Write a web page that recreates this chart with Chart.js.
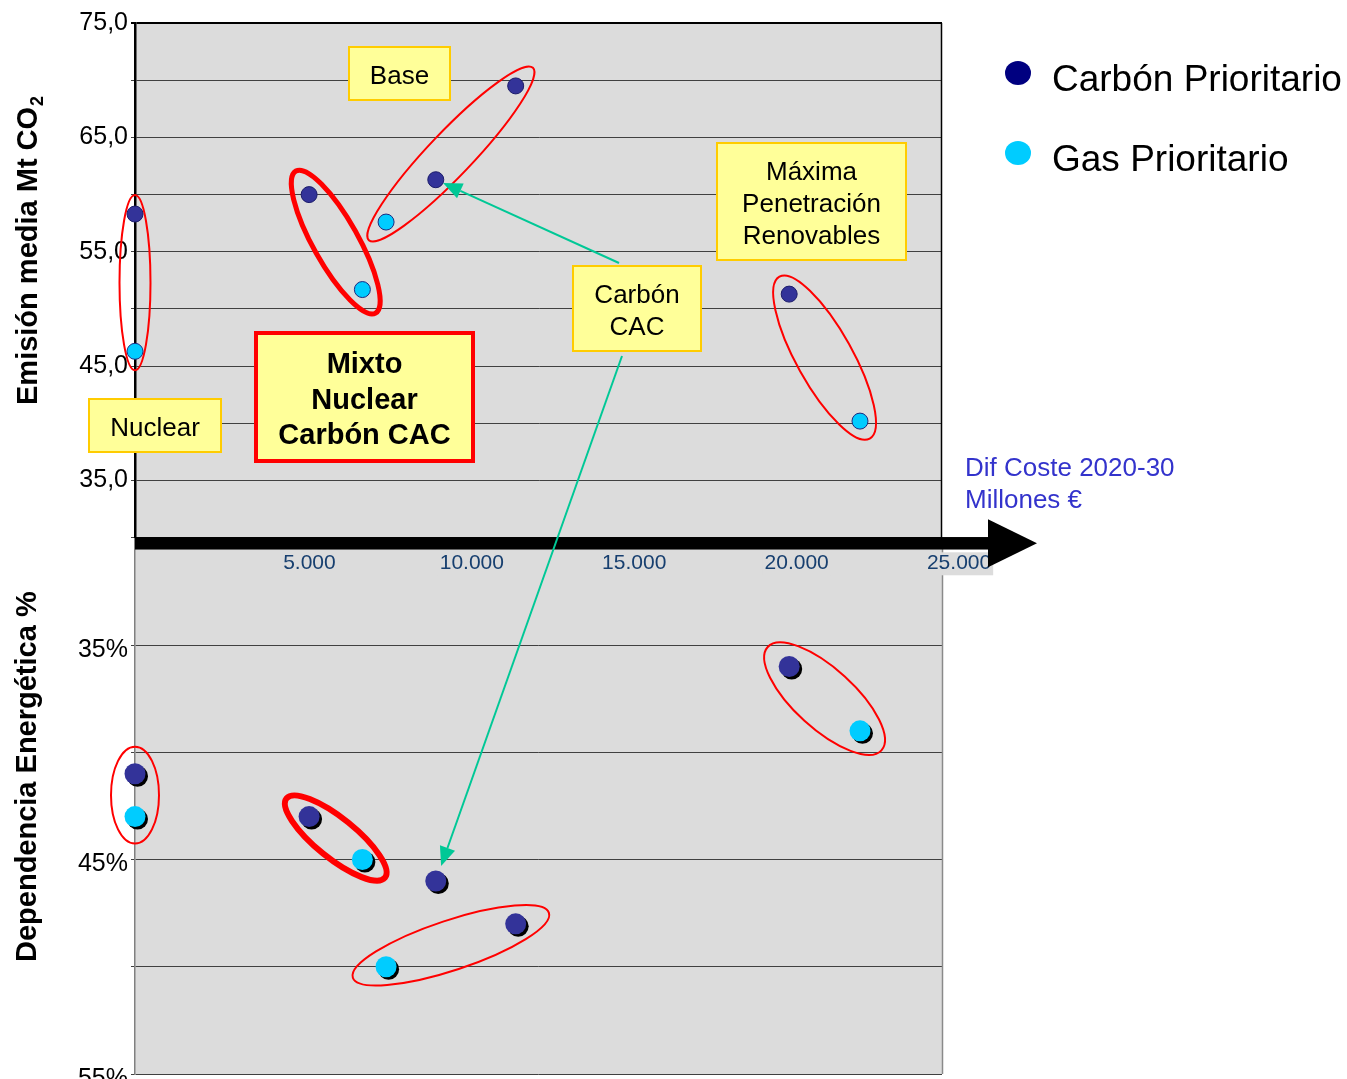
<!DOCTYPE html>
<html lang="es">
<head>
<meta charset="utf-8">
<title>Emisión y dependencia energética frente a coste 2020-30</title>
<script src="https://cdn.jsdelivr.net/npm/chart.js@4.4.1/dist/chart.umd.min.js"></script>
<style>
  html, body { margin: 0; padding: 0; background: #fff; overflow: hidden; }
  #wrap { position: relative; width: 1347px; height: 1079px; overflow: hidden; }
  canvas { display: block; }
</style>
</head>
<body>
<div id="wrap"><canvas id="grafico" width="1347" height="1100"></canvas></div>
<script>
// ---------- Datos ----------
const escenariosCarbon = ['Nuclear', 'Mixto Nuclear Carbón CAC', 'Carbón CAC', 'Base', 'Máxima Penetración Renovables'];
const costeCarbon = [-370, 4990, 8890, 11350, 19770];        // Dif. coste 2020-30, millones €
const emisionCarbon = [58.3, 60.0, 61.3, 69.5, 51.3];         // Mt CO2
const dependenciaCarbon = [41, 43, 46, 48, 36];               // %

const escenariosGas = ['Nuclear', 'Mixto Nuclear Carbón CAC', 'Base', 'Máxima Penetración Renovables'];
const costeGas = [-370, 6630, 7360, 21950];
const emisionGas = [46.3, 51.7, 57.6, 40.2];
const dependenciaGas = [43, 45, 50, 39];

const costeTicks = [5000, 10000, 15000, 20000, 25000];
const costeTickLabels = ['5.000', '10.000', '15.000', '20.000', '25.000'];
const emisionTicks = [35, 45, 55, 65, 75];
const emisionTickLabels = ['35,0', '45,0', '55,0', '65,0', '75,0'];
const dependenciaTicks = [35, 45, 55];
const dependenciaTickLabels = ['35%', '45%', '55%'];

// ---------- Estilo ----------
const FONT = '"Liberation Sans", Arial, Helvetica, sans-serif';
const AZUL = '#333399';
const CIAN = '#00ccff';

const puntos = (xs, ys) => xs.map((x, i) => ({ x, y: ys[i] }));
const etiqueta = (v, vals, txt) => { const i = vals.indexOf(v); return i >= 0 ? txt[i] : ''; };

// Elipses que agrupan los escenarios (ancladas a los puntos)
const grupos = [
  { panel: 'yE', p: ['c', 0], q: ['g', 0], extend: 19, minor: 15.5, lw: 2 },
  { panel: 'yE', p: ['c', 1], q: ['g', 1], extend: 27, minor: 22.5, lw: 5 },
  { panel: 'yE', p: ['g', 2], q: ['c', 3], extend: 25, minor: 22, lw: 2 },
  { panel: 'yE', p: ['c', 4], q: ['g', 3], extend: 20, minor: 28, lw: 2 },
  { panel: 'yD', p: ['c', 0], q: ['g', 0], extend: 27, minor: 24, lw: 2 },
  { panel: 'yD', p: ['c', 1], q: ['g', 1], extend: 29, minor: 20, lw: 6 },
  { panel: 'yD', p: ['g', 2], q: ['c', 3], extend: 35, minor: 25, lw: 2 },
  { panel: 'yD', p: ['c', 4], q: ['g', 3], extend: 29, minor: 30, lw: 2 }
];

// Cuadros de texto
const cajas = [
  { x: 349, y: 47, w: 101, h: 53, lines: ['Base'], font: '26px', lh: 32, border: '#ffcc00', bw: 2 },
  { x: 717, y: 143, w: 189, h: 117, lines: ['Máxima', 'Penetración', 'Renovables'], font: '26px', lh: 32, border: '#ffcc00', bw: 2 },
  { x: 573, y: 266, w: 128, h: 85, lines: ['Carbón', 'CAC'], font: '26px', lh: 32, border: '#ffcc00', bw: 2 },
  { x: 89, y: 399, w: 132, h: 53, lines: ['Nuclear'], font: '26px', lh: 32, border: '#ffcc00', bw: 2 },
  { x: 256, y: 333, w: 217, h: 128, lines: ['Mixto', 'Nuclear', 'Carbón CAC'], font: 'bold 29px', lh: 35.5, border: '#ff0000', bw: 4 }
];

// Flechas desde "Carbón CAC" hasta el escenario correspondiente
const flechas = [
  { from: { x: 619, y: 263 }, to: ['c', 2, 'yE'], gap: 8 },
  { from: { x: 622, y: 356 }, to: ['c', 2, 'yD'], gap: 16 }
];

function pixel(chart, serie, idx, panel) {
  const xs = chart.scales.x, ys = chart.scales[panel];
  const xv = (serie === 'c' ? costeCarbon : costeGas)[idx];
  const yv = panel === 'yE'
    ? (serie === 'c' ? emisionCarbon : emisionGas)[idx]
    : (serie === 'c' ? dependenciaCarbon : dependenciaGas)[idx];
  return { x: xs.getPixelForValue(xv), y: ys.getPixelForValue(yv) };
}

function flecha(ctx, x0, y0, x1, y1) {
  const ang = Math.atan2(y1 - y0, x1 - x0);
  const L = 19, W = 8;
  const bx = x1 - L * Math.cos(ang), by = y1 - L * Math.sin(ang);
  ctx.strokeStyle = '#00c896';
  ctx.fillStyle = '#00c896';
  ctx.lineWidth = 2;
  ctx.beginPath(); ctx.moveTo(x0, y0); ctx.lineTo(bx, by); ctx.stroke();
  ctx.beginPath();
  ctx.moveTo(x1, y1);
  ctx.lineTo(bx + W * Math.sin(ang), by - W * Math.cos(ang));
  ctx.lineTo(bx - W * Math.sin(ang), by + W * Math.cos(ang));
  ctx.closePath(); ctx.fill();
}

function caja(ctx, c) {
  ctx.fillStyle = '#ffff99';
  ctx.fillRect(c.x, c.y, c.w, c.h);
  ctx.lineWidth = c.bw;
  ctx.strokeStyle = c.border;
  ctx.strokeRect(c.x, c.y, c.w, c.h);
  ctx.fillStyle = '#000';
  ctx.font = c.font + ' ' + FONT;
  ctx.textAlign = 'center';
  ctx.textBaseline = 'middle';
  const cx = c.x + c.w / 2;
  const cy = c.y + c.h / 2 + 3.5;
  const y0 = cy - (c.lines.length - 1) * c.lh / 2;
  c.lines.forEach((t, i) => ctx.fillText(t, cx, y0 + i * c.lh));
}

const decoracion = {
  id: 'decoracion',
  beforeDraw(chart) {
    const { ctx, chartArea: a } = chart;
    ctx.save();
    ctx.fillStyle = '#dcdcdc';
    ctx.fillRect(a.left, a.top, a.right - a.left, a.bottom - a.top);
    ctx.restore();
  },
  beforeDatasetsDraw(chart) {
    const ctx = chart.ctx;
    ctx.save();
    ctx.strokeStyle = '#ff0000';
    grupos.forEach(g => {
      const p = pixel(chart, g.p[0], g.p[1], g.panel);
      const q = pixel(chart, g.q[0], g.q[1], g.panel);
      const cx = (p.x + q.x) / 2, cy = (p.y + q.y) / 2;
      const ang = Math.atan2(q.y - p.y, q.x - p.x);
      const a = Math.hypot(q.x - p.x, q.y - p.y) / 2 + g.extend;
      ctx.lineWidth = g.lw;
      ctx.beginPath();
      ctx.ellipse(cx, cy, a, g.minor, ang, 0, Math.PI * 2);
      ctx.stroke();
    });
    ctx.restore();
  },
  beforeDatasetDraw(chart, args) {
    if (chart.data.datasets[args.index].sombra) {
      const ctx = chart.ctx;
      ctx.save();
      ctx.shadowColor = '#000';
      ctx.shadowOffsetX = 2.5;
      ctx.shadowOffsetY = 2.5;
      ctx.shadowBlur = 0;
    }
  },
  afterDatasetDraw(chart, args) {
    if (chart.data.datasets[args.index].sombra) chart.ctx.restore();
  },
  afterDatasetsDraw(chart) {
    const { ctx, chartArea: a, scales } = chart;
    const yE = scales.yE, yD = scales.yD, x = scales.x;
    ctx.save();

    // bordes derechos de los paneles
    ctx.lineWidth = 1.5;
    ctx.strokeStyle = '#000';
    ctx.beginPath(); ctx.moveTo(a.right - 0.5, yE.top); ctx.lineTo(a.right - 0.5, yE.bottom); ctx.stroke();
    ctx.strokeStyle = '#8a8a8a';
    ctx.beginPath(); ctx.moveTo(a.right + 0.5, yD.top); ctx.lineTo(a.right + 0.5, yD.bottom); ctx.stroke();

    // eje de coste: etiquetas
    const yBar = yE.bottom + 5.5;
    ctx.font = '21px ' + FONT;
    ctx.textAlign = 'center';
    ctx.textBaseline = 'middle';
    costeTicks.forEach((v, i) => {
      const px = x.getPixelForValue(v);
      const w = ctx.measureText(costeTickLabels[i]).width;
      ctx.fillStyle = '#dcdcdc';
      ctx.fillRect(px - w / 2 - 2, yBar + 9, w + 4, 23);
      ctx.fillStyle = '#173f6f';
      ctx.fillText(costeTickLabels[i], px, yBar + 20);
    });

    // eje de coste: flecha negra
    ctx.fillStyle = '#000';
    ctx.fillRect(a.left, yBar - 6.25, 860, 12.5);
    ctx.beginPath();
    ctx.moveTo(988, yBar - 24);
    ctx.lineTo(1037, yBar);
    ctx.lineTo(988, yBar + 24);
    ctx.closePath(); ctx.fill();

    // título del eje de coste
    ctx.fillStyle = '#3333cc';
    ctx.font = '26px ' + FONT;
    ctx.textAlign = 'left';
    ctx.fillText('Dif Coste 2020-30', 965, 469);
    ctx.fillText('Millones €', 965, 501);

    // flechas verdes
    flechas.forEach(f => {
      const t = pixel(chart, f.to[0], f.to[1], f.to[2]);
      const d = Math.hypot(f.from.x - t.x, f.from.y - t.y);
      const tx = t.x + (f.from.x - t.x) / d * f.gap;
      const ty = t.y + (f.from.y - t.y) / d * f.gap;
      flecha(ctx, f.from.x, f.from.y, tx, ty);
    });

    // cuadros de texto
    cajas.forEach(c => caja(ctx, c));

    // leyenda
    const ley = [
      { label: chart.data.datasets[0].label, color: '#000080', y: 73 },
      { label: chart.data.datasets[1].label, color: CIAN, y: 153 }
    ];
    ley.forEach(l => {
      ctx.fillStyle = l.color;
      ctx.beginPath(); ctx.ellipse(1018, l.y, 13, 12, 0, 0, Math.PI * 2); ctx.fill();
      ctx.fillStyle = '#000';
      ctx.font = '37px ' + FONT;
      ctx.textAlign = 'left';
      ctx.textBaseline = 'middle';
      ctx.fillText(l.label, 1052, l.y + 8);
    });

    // títulos de los ejes verticales
    ctx.fillStyle = '#000';
    ctx.textAlign = 'left';
    ctx.textBaseline = 'alphabetic';
    ctx.save();
    ctx.translate(36.5, 405);
    ctx.rotate(-Math.PI / 2);
    ctx.font = 'bold 29px ' + FONT;
    const t1 = 'Emisión media Mt CO';
    ctx.fillText(t1, 0, 0);
    const w1 = ctx.measureText(t1).width;
    ctx.font = 'bold 18px ' + FONT;
    ctx.fillText('2', w1 + 1, 6);
    ctx.restore();

    ctx.save();
    ctx.translate(36, 962);
    ctx.rotate(-Math.PI / 2);
    ctx.font = 'bold 29px ' + FONT;
    ctx.fillText('Dependencia Energética %', 0, 0);
    ctx.restore();

    ctx.restore();
  }
};

const gridColor = c => (c.tick && c.tick.value === 75) ? '#000' : '#404040';
const gridWidth = c => (c.tick && c.tick.value === 75) ? 2 : 1;

new Chart(document.getElementById('grafico'), {
  type: 'scatter',
  data: {
    datasets: [
      { label: 'Carbón Prioritario', data: puntos(costeCarbon, emisionCarbon), yAxisID: 'yE',
        backgroundColor: AZUL, borderColor: '#1c1c6b', borderWidth: 1, pointRadius: 8, clip: false },
      { label: 'Gas Prioritario', data: puntos(costeGas, emisionGas), yAxisID: 'yE',
        backgroundColor: CIAN, borderColor: '#1c2a80', borderWidth: 1, pointRadius: 8, clip: false },
      { label: 'Carbón Prioritario', data: puntos(costeCarbon, dependenciaCarbon), yAxisID: 'yD',
        backgroundColor: AZUL, borderWidth: 0, pointRadius: 10.5, clip: false, sombra: true },
      { label: 'Gas Prioritario', data: puntos(costeGas, dependenciaGas), yAxisID: 'yD',
        backgroundColor: CIAN, borderWidth: 0, pointRadius: 10.5, clip: false, sombra: true }
    ]
  },
  options: {
    responsive: false,
    animation: false,
    events: [],
    layout: { padding: { left: 0, top: 23, right: 405, bottom: 26 } },
    plugins: { legend: { display: false }, tooltip: { enabled: false } },
    scales: {
      x: { type: 'linear', display: false, min: -370, max: 24475 },
      yD: {
        type: 'linear', position: 'left', stack: 'paneles', stackWeight: 535.75, weight: 0,
        min: 30, max: 55, reverse: true,
        afterFit: s => { s.width = 135; },
        ticks: { stepSize: 5, autoSkip: false, padding: 3, labelOffset: 5, color: '#000', font: { family: FONT, size: 25 },
                 callback: v => etiqueta(v, dependenciaTicks, dependenciaTickLabels) },
        grid: { color: '#404040', lineWidth: 1, tickLength: 4 },
        border: { color: '#808080', width: 1.5 }
      },
      yE: {
        type: 'linear', position: 'left', stack: 'paneles', stackWeight: 514.35, weight: 1,
        min: 30, max: 75,
        afterFit: s => { s.width = 135; },
        ticks: { stepSize: 5, autoSkip: false, padding: 3, color: '#000', font: { family: FONT, size: 25 },
                 callback: v => etiqueta(v, emisionTicks, emisionTickLabels) },
        grid: { color: gridColor, lineWidth: gridWidth, tickLength: 4 },
        border: { color: '#000', width: 2.5 }
      }
    }
  },
  plugins: [decoracion]
});
</script>
</body>
</html>
